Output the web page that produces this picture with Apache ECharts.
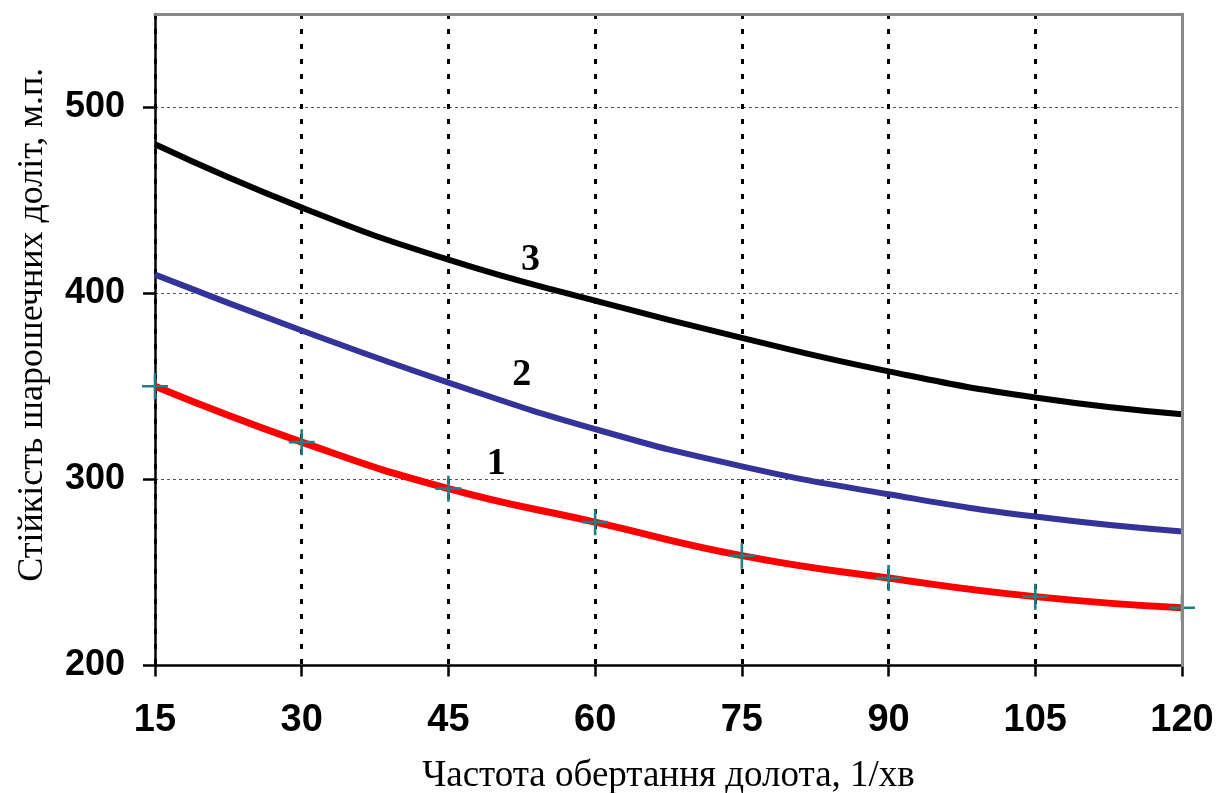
<!DOCTYPE html>
<html>
<head>
<meta charset="utf-8">
<script src="https://cdn.jsdelivr.net/npm/echarts@6/dist/echarts.min.js"></script>
<style>
  html, body { margin: 0; padding: 0; background: #fff; }
  #chart { width: 1226px; height: 793px; }
</style>
</head>
<body>
<div id="chart"></div>
<script>
// частота обертання, 1/хв
var xValues = [15, 30, 45, 60, 75, 90, 105, 120];
// стійкість доліт, м.п.
var curve1 = [350, 320, 295, 277, 259, 247, 237, 231];
var curve2 = [410, 380, 352, 327, 307, 292, 280, 272];
var curve3 = [480, 446, 418, 396, 376, 358, 344, 335];
// підписи кривих: [x, y, текст]
var curveLabels = [[49.9, 308, "1"], [52.5, 356, "2"], [53.4, 418, "3"]];

function pairs(ys) {
  return xValues.map(function (x, i) { return [x, ys[i]]; });
}

var plusPath = "path://M9,0h2v9h9v2h-9v9h-2v-9h-9v-2h9z";

var chart = echarts.init(document.getElementById("chart"));
chart.setOption({
  animation: false,
  grid: { left: 155, right: 44, top: 14, bottom: 127.5, outerBoundsMode: "none" },
  xAxis: [{
    type: "value",
    min: 15,
    max: 120,
    interval: 15,
    name: "Частота обертання долота, 1/хв",
    nameLocation: "middle",
    nameGap: 92,
    nameTextStyle: { fontFamily: "Liberation Serif", fontSize: 37, color: "#000" },
    axisLine: { lineStyle: { color: "#000", width: 2.5 } },
    axisTick: { length: 11, lineStyle: { color: "#000", width: 2.5 } },
    axisLabel: { margin: 36, fontFamily: "Liberation Sans", fontWeight: "bold", fontSize: 38, color: "#000" },
    splitLine: { show: true, lineStyle: { color: "#000", width: 3, type: [5, 10] } }
  }, {
    type: "value",
    position: "top",
    min: 15,
    max: 120,
    axisLine: { lineStyle: { color: "#888", width: 3 } },
    axisTick: { show: false },
    axisLabel: { show: false },
    splitLine: { show: false }
  }],
  yAxis: [{
    type: "value",
    min: 200,
    max: 550,
    interval: 100,
    name: "Стійкість шарошечних доліт, м.п.",
    nameLocation: "middle",
    nameGap: 104,
    nameTextStyle: { fontFamily: "Liberation Serif", fontSize: 36, color: "#000", padding: [0, 0, 0, 30] },
    axisLine: { show: true, lineStyle: { color: "#000", width: 2.5 } },
    axisTick: { show: true, length: 12, lineStyle: { color: "#000", width: 2.5 } },
    axisLabel: { margin: 30, showMaxLabel: false, fontFamily: "Liberation Sans", fontWeight: "bold", fontSize: 36, color: "#000" },
    splitLine: { show: true, lineStyle: { color: "#555", width: 1, type: [3, 3] } }
  }, {
    type: "value",
    position: "right",
    min: 200,
    max: 550,
    z: 5,
    axisLine: { show: true, lineStyle: { color: "#888", width: 3 } },
    axisTick: { show: false },
    axisLabel: { show: false },
    splitLine: { show: false }
  }],
  series: [{
    name: "3",
    type: "line",
    smooth: true,
    data: pairs(curve3),
    showSymbol: false,
    lineStyle: { color: "#000", width: 6 },
    markPoint: {
      symbol: "circle",
      symbolSize: 1,
      itemStyle: { color: "rgba(0,0,0,0)" },
      label: { show: true, position: "inside", formatter: "{b}", fontFamily: "Liberation Serif", fontWeight: "bold", fontSize: 38, color: "#000" },
      data: curveLabels.map(function (l) { return { name: l[2], coord: [l[0], l[1]] }; })
    }
  }, {
    name: "2",
    type: "line",
    smooth: true,
    data: pairs(curve2),
    showSymbol: false,
    lineStyle: { color: "#333399", width: 6 }
  }, {
    name: "1",
    type: "line",
    smooth: true,
    data: pairs(curve1),
    symbol: plusPath,
    symbolSize: 26,
    showSymbol: true,
    itemStyle: { color: "#1f8080" },
    lineStyle: { color: "#ff0000", width: 7 },
    z: 3
  }]
});
</script>
</body>
</html>
